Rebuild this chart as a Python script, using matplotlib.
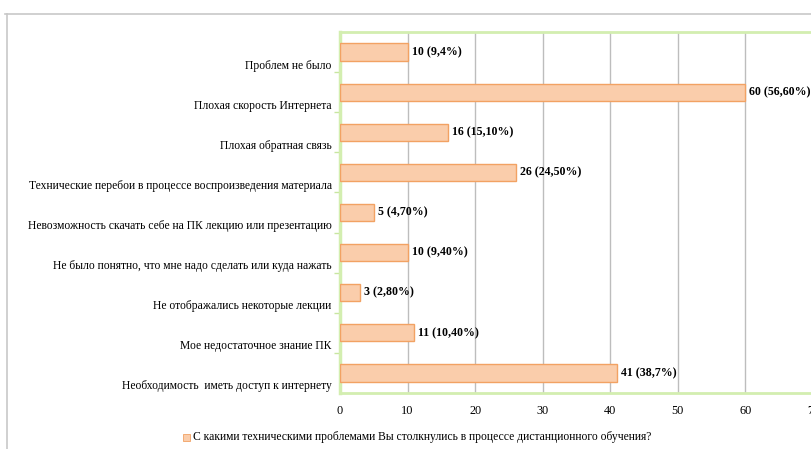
import matplotlib.pyplot as plt
from matplotlib.lines import Line2D
from matplotlib.patches import Rectangle
from matplotlib.transforms import ScaledTranslation

categories = [
    "Проблем не было",
    "Плохая скорость Интернета",
    "Плохая обратная связь",
    "Технические перебои в процессе воспроизведения материала",
    "Невозможность скачать себе на ПК лекцию или презентацию",
    "Не было понятно, что мне надо сделать или куда нажать",
    "Не отображались некоторые лекции",
    "Мое недостаточное знание ПК",
    "Необходимость  иметь доступ к интернету",
]
values = [10, 60, 16, 26, 5, 10, 3, 11, 41]
value_labels = ["10 (9,4%)", "60 (56,60%)", "16 (15,10%)", "26 (24,50%)", "5 (4,70%)",
                "10 (9,40%)", "3 (2,80%)", "11 (10,40%)", "41 (38,7%)"]
xticks = [0, 10, 20, 30, 40, 50, 60, 70]
legend_text = "С какими техническими проблемами Вы столкнулись в процессе дистанционного обучения?"

plt.rcParams['font.family'] = ['Liberation Serif', 'DejaVu Serif']

fig = plt.figure(figsize=(8.11, 4.49), dpi=100)
W, H = 811, 449
ax = fig.add_axes([340 / W, 1 - 393 / H, (813 - 340) / W, (393 - 32) / H])

pos = list(range(len(categories)))
ax.barh(pos, values, height=0.43, color='#FACDAB', edgecolor='#F2A263', linewidth=1.0, zorder=3)
for p, v, lab in zip(pos, values, value_labels):
    ax.text(v + 0.6, p, lab, va='center', ha='left', fontsize=8.6, fontweight='bold', zorder=4)

ax.set_xlim(0, 70)
ax.set_ylim(len(categories) - 0.5, -0.5)
ax.set_xticks(xticks)
ax.set_xticklabels([str(t) for t in xticks], fontsize=8.8)
ax.set_yticks(pos)
ax.set_yticklabels(categories, fontsize=8.4)
ax.set_yticks([p + 0.5 for p in pos[:-1]], minor=True)
ax.tick_params(axis='y', which='major', length=0, pad=6)
ax.tick_params(axis='y', which='minor', length=4, color='#C8E6A0', width=1)
ax.tick_params(axis='x', length=0, pad=9)
# category labels sit a little below the bars, as in the original
shift = ScaledTranslation(0, -12 / 100, fig.dpi_scale_trans)
for lbl in ax.get_yticklabels():
    lbl.set_transform(lbl.get_transform() + shift)
ax.xaxis.grid(True, color='#BDBDBD', linewidth=1.0, zorder=0)
for s in ['left', 'bottom', 'top']:
    ax.spines[s].set_color('#D3EEB0')
ax.spines['left'].set_linewidth(2.5)
ax.spines['bottom'].set_linewidth(2)
ax.spines['top'].set_linewidth(2)
ax.spines['right'].set_visible(False)

# window frame lines
fig.add_artist(Line2D([5 / W, 1], [1 - 14 / H, 1 - 14 / H], color='#C8C8C8', linewidth=1.2))
fig.add_artist(Line2D([7 / W, 7 / W], [0, 1 - 14 / H], color='#C8C8C8', linewidth=1.2))

# legend
fig.add_artist(Rectangle((183 / W, 1 - 441 / H), 7 / W, 7 / H, facecolor='#FACDAB',
                         edgecolor='#F2A263', linewidth=0.6))
fig.text(193 / W, 1 - 437 / H, legend_text, fontsize=8.4, va='center', ha='left')

fig.savefig('out.png', dpi=100)
